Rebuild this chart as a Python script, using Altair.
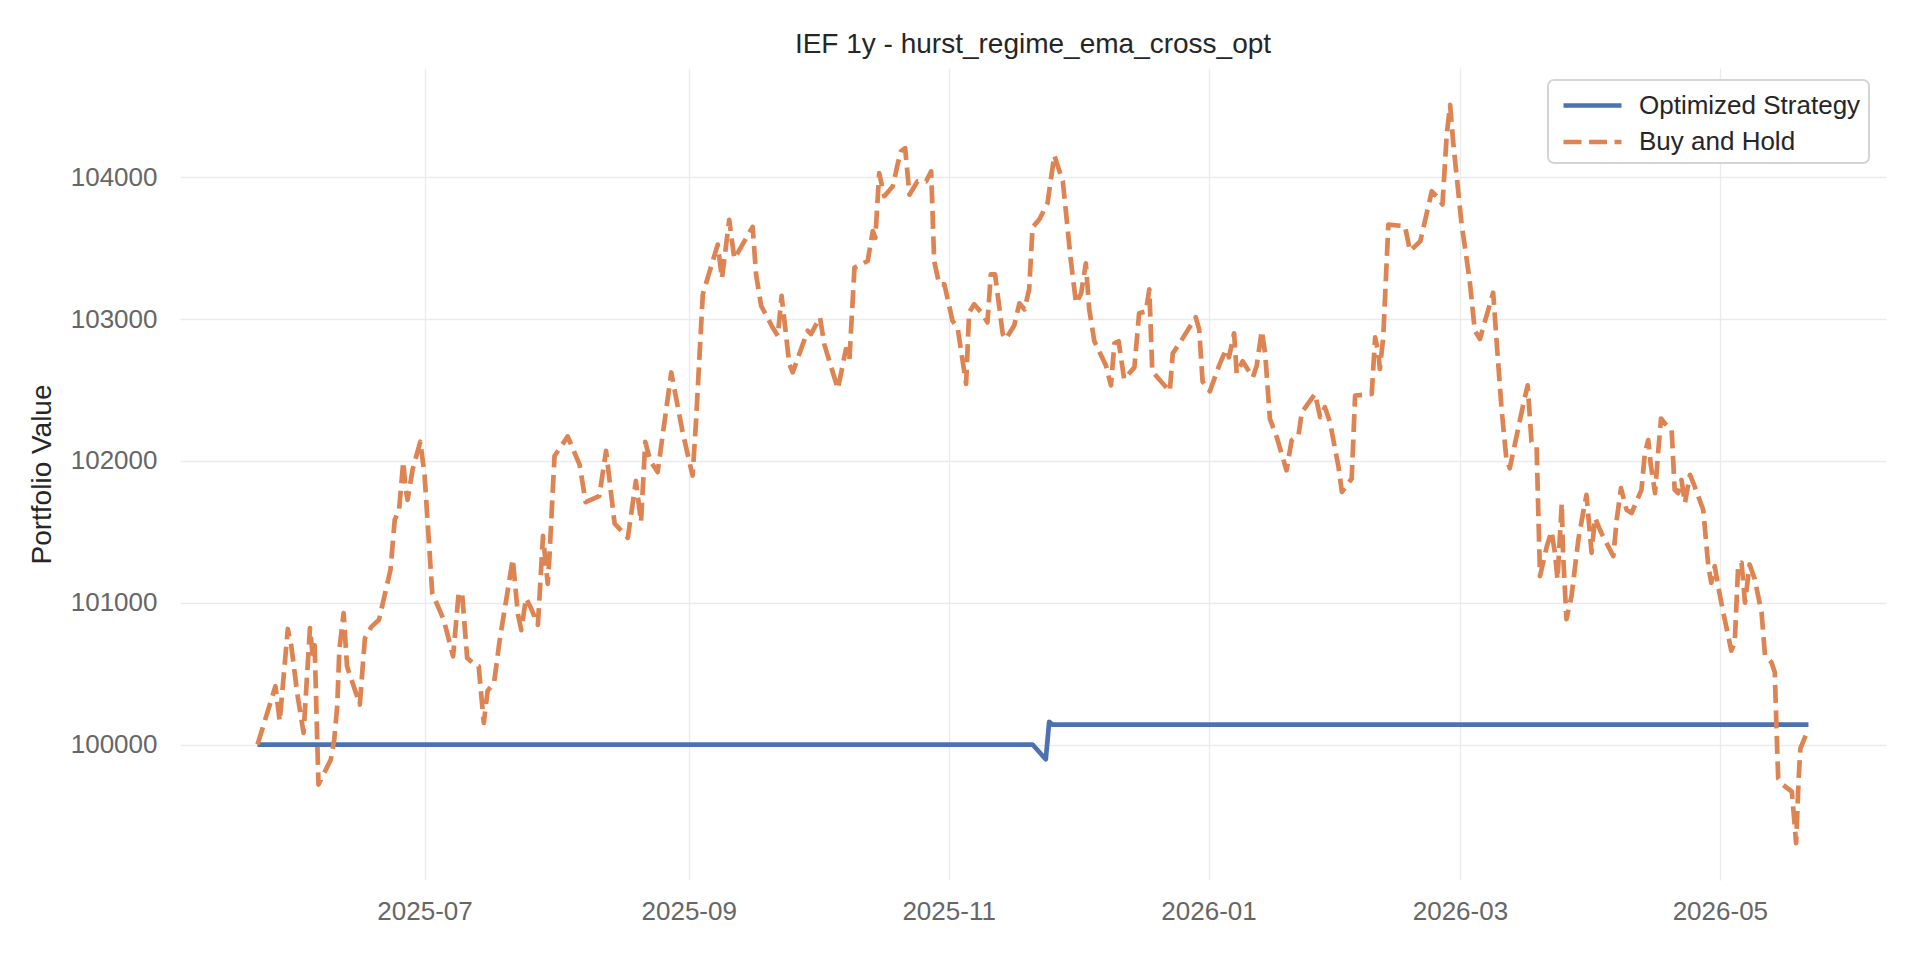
import altair as alt
import pandas as pd

TITLE = "IEF 1y - hurst_regime_ema_cross_opt"
Y_TITLE = "Portfolio Value"
SERIES = ["Optimized Strategy", "Buy and Hold"]
COLORS = ["#4c72b0", "#dd8452"]
DASHES = [[1, 0], [18, 7.5]]

# x positions are days counted from 2025-07-01
STRAT_DAYS = [-39.2, 142.7, 145.8, 146.6, 147.4, 324.8]
STRAT_VALUES = [100000, 100000, 99896, 100160, 100140, 100140]

BH_DAYS = [
    -39.2, -35.0, -34.0, -32.1, -31.3, -29.9, -28.4, -26.9, -26.3, -25.8,
    -24.9, -22.0, -21.2, -20.5, -20.0, -19.0, -18.2, -15.2, -14.0, -12.5,
    -10.7, -8.0, -7.0, -6.0, -5.0, -4.5, -4.0, -2.8, -1.0, 0.0,
    1.8, 4.5, 6.7, 8.0, 8.8, 10.0, 12.0, 12.7, 13.9, 14.8,
    16.3, 17.6, 20.7, 21.9, 22.7, 23.8, 25.0, 26.6, 27.8, 28.9,
    29.3, 30.5, 33.6, 36.4, 37.8, 41.0, 42.6, 44.6, 47.7, 49.6,
    50.8, 51.8, 53.0, 54.7, 57.9, 60.6, 62.9, 63.7, 65.3, 66.8,
    68.8, 69.8, 71.5, 72.7, 77.0, 77.8, 79.0, 81.7, 82.9, 83.8,
    85.6, 86.4, 89.9, 90.7, 92.8, 93.8, 97.0, 98.9, 99.7, 100.9,
    104.0, 105.2, 105.8, 106.7, 107.9, 109.9, 111.0, 111.8, 112.8, 113.8,
    115.7, 117.7, 118.9, 119.6, 120.8, 122.0, 123.9, 125.1, 127.1, 127.8,
    129.0, 131.0, 132.1, 132.9, 133.9, 135.7, 136.4, 138.4, 139.6, 140.8,
    141.9, 142.7, 144.3, 146.2, 147.8, 149.8, 151.7, 152.9, 154.1, 155.2,
    156.0, 157.2, 159.9, 161.1, 161.9, 162.9, 164.2, 166.6, 167.7, 169.3,
    170.1, 170.8, 172.4, 174.9, 175.6, 177.5, 181.0, 181.8, 182.6, 184.3,
    186.5, 188.1, 188.8, 190.0, 190.6, 192.0, 194.4, 195.3, 196.5, 197.3,
    198.4, 200.0, 202.3, 203.5, 205.1, 205.9, 209.0, 210.2, 211.3, 212.5,
    214.5, 215.3, 217.6, 218.4, 222.3, 223.1, 223.9, 224.2, 225.0, 226.2,
    230.1, 231.3, 233.7, 236.4, 237.9, 238.9, 239.9, 240.7, 241.4, 243.4,
    244.2, 245.3, 246.5, 247.7, 248.9, 250.8, 251.6, 252.8, 253.9, 254.7,
    257.9, 258.9, 259.8, 261.0, 261.4, 261.8, 263.4, 264.5, 265.3, 265.9,
    266.9, 267.2, 268.0, 269.2, 270.8, 271.9, 272.7, 273.9, 274.7, 276.2,
    279.0, 279.8, 280.8, 282.1, 283.3, 285.6, 286.4, 287.2, 287.8, 288.8,
    289.5, 290.2, 291.1, 292.7, 293.4, 294.2, 295.0, 295.8, 297.0, 298.1,
    300.1, 301.3, 302.0, 302.8, 303.6, 304.8, 306.7, 307.5, 308.3, 309.1,
    309.9, 311.0, 312.2, 313.8, 314.6, 316.1, 316.9, 317.3, 317.7, 318.9,
    320.9, 321.3, 321.9, 322.5, 322.9, 324.8,
]
BH_VALUES = [
    100000, 100411, 100164, 100815, 100700, 100364, 100082, 100822, 100640, 100700,
    99718, 99894, 100035, 100270, 100669, 100927, 100552, 100282, 100751, 100830,
    100880, 101232, 101585, 101650, 101995, 101820, 101725, 101940, 102136, 101900,
    101068, 100880, 100622, 101068, 101068, 100610, 100560, 100552, 100152, 100380,
    100434, 100730, 101308, 100920, 100807, 101032, 100960, 100845, 101471, 101133,
    101320, 102035, 102173, 101972, 101709, 101752, 102072, 101559, 101458, 101859,
    101571, 102135, 102000, 101922, 102624, 102198, 101897, 102273, 103175, 103326,
    103526, 103288, 103701, 103426, 103651, 103316, 103094, 102941, 102883, 103164,
    102684, 102625, 102918, 102895, 103012, 102824, 102508, 102789, 102707, 103363,
    103410, 103621, 103574, 104030, 103867, 103937, 104089, 104183, 104206, 103878,
    103972, 103972, 104042, 103410, 103246, 103246, 102988, 102941, 102543, 103047,
    103105, 103035, 102977, 103316, 103316, 102895, 102859, 102956, 103112, 103069,
    103210, 103648, 103704, 103817, 104155, 103972, 103408, 103112, 103182, 103394,
    103069, 102844, 102674, 102533, 102829, 102844, 102576, 102660, 103041, 103055,
    103210, 102632, 102576, 102491, 102759, 102844, 103013, 102928, 102561, 102491,
    102674, 102787, 102731, 102900, 102618, 102703, 102590, 102672, 102918, 102754,
    102297, 102169, 101934, 102145, 102180, 102344, 102473, 102309, 102379, 102274,
    101958, 101782, 101876, 102461, 102473, 102871, 102754, 102649, 102871, 103667,
    103656, 103480, 103550, 103902, 103855, 103808, 104300, 104511, 104253, 103667,
    103504, 103269, 102918, 102860, 102988, 103187, 102848, 102356, 102016, 101948,
    102404, 102533, 102135, 102100, 101633, 101188, 101399, 101504, 101352, 101165,
    101703, 101352, 100884, 101048, 101446, 101633, 101761, 101352, 101598, 101492,
    101329, 101586, 101808, 101656, 101633, 101796, 102054, 102147, 101972, 101773,
    102054, 102299, 102264, 102217, 101796, 101773, 101866, 101703, 101902, 101820,
    101656, 101258, 101141, 101258, 101118, 100931, 100662, 100720, 101258, 101282,
    101001, 101270, 101165, 100931, 100627, 100580, 100510, 100112, 99761, 99715,
    99668, 99528, 99305, 99761, 99972, 100112,
]

Y_TICKS = [100000, 101000, 102000, 103000, 104000]
X_TICKS = ["2025-07-01", "2025-09-01", "2025-11-01", "2026-01-01", "2026-03-01", "2026-05-01"]

BASE = pd.Timestamp("2025-07-01")
EPOCH = pd.Timestamp("1970-01-01")


def to_ms(stamps):
    idx = pd.DatetimeIndex(stamps)
    return [int(v) for v in (idx - EPOCH) // pd.Timedelta(milliseconds=1)]


def series_frame(days, values, name):
    stamps = BASE + pd.to_timedelta(days, unit="D")
    return pd.DataFrame({"t": to_ms(stamps), "value": values, "series": name})


strat_df = series_frame(STRAT_DAYS, STRAT_VALUES, SERIES[0])
bh_df = series_frame(BH_DAYS, BH_VALUES, SERIES[1])

# matplotlib style 5% margins around the data
all_days = STRAT_DAYS + BH_DAYS
all_vals = STRAT_VALUES + BH_VALUES
dpad = (max(all_days) - min(all_days)) * 0.05
vpad = (max(all_vals) - min(all_vals)) * 0.05
x_domain = to_ms([BASE + pd.Timedelta(days=min(all_days) - dpad),
                  BASE + pd.Timedelta(days=max(all_days) + dpad)])
y_domain = [min(all_vals) - vpad, max(all_vals) + vpad]

legend = alt.Legend(orient="none", legendX=1368, legendY=12)

x = alt.X(
    "t:T",
    title=None,
    scale=alt.Scale(type="utc", domain=x_domain, nice=False),
    axis=alt.Axis(values=to_ms(X_TICKS), labelExpr="utcFormat(datum.value, '%Y-%m')",
                  labelPadding=18, labelFlush=False),
)
y = alt.Y(
    "value:Q",
    title=Y_TITLE,
    scale=alt.Scale(domain=y_domain, nice=False, zero=False),
    axis=alt.Axis(values=Y_TICKS, format="d", labelPadding=23,
                  titleX=-138, titleY=406, titleAngle=270,
                  titleAlign="center", titleBaseline="middle"),
)
color = alt.Color("series:N", title=None, scale=alt.Scale(domain=SERIES, range=COLORS), legend=legend)
dash = alt.StrokeDash("series:N", title=None, scale=alt.Scale(domain=SERIES, range=DASHES), legend=legend)

line_kw = dict(strokeWidth=4.7, strokeJoin="round", strokeCap="butt")
strat = alt.Chart(strat_df).mark_line(**line_kw).encode(x=x, y=y, color=color, strokeDash=dash)
bh = alt.Chart(bh_df).mark_line(**line_kw).encode(x=x, y=y, color=color, strokeDash=dash)

chart = (
    alt.layer(strat, bh)
    .properties(
        width=1706,
        height=812,
        title=alt.TitleParams(TITLE, fontSize=28, fontWeight="normal", color="#262626",
                              offset=9, anchor="middle", frame="group"),
        padding={"left": 172, "top": 60, "right": 26, "bottom": 60},
        autosize=alt.AutoSizeParams(type="none"),
        background="white",
    )
    .configure(font="Liberation Sans")
    .configure_view(stroke=None)
    .configure_axis(
        domain=False, ticks=False, grid=True, gridColor="#ebebeb", gridWidth=1.3,
        labelFontSize=26, labelColor="#666666",
        titleFontSize=28, titleColor="#262626", titleFontWeight="normal",
    )
    .configure_legend(
        padding=8, cornerRadius=6, fillColor="white", strokeColor="#d4d4d4", strokeWidth=2,
        labelFontSize=26, labelColor="#262626", labelOffset=48, labelLimit=500, rowPadding=5.5,
        symbolType="M-0.667,0H3.2", symbolSize=900, symbolStrokeWidth=4.7,
    )
)

chart.save("out.html", embed_options={"renderer": "svg", "actions": False})
